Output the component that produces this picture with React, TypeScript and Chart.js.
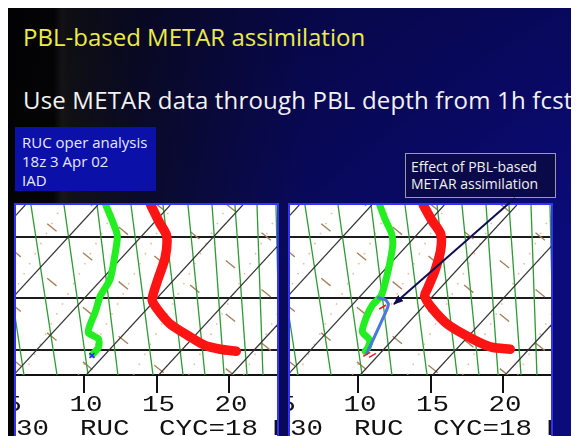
import React, { useEffect, useRef } from 'react';
import { Chart, registerables } from 'chart.js';

Chart.register(...registerables);

// ---- axis ranges (temperature °C, pressure hPa) ----
const T_MIN = 5.31;
const T_MAX = 23.31;
const P_TOP = 860;
const P_BOTTOM = 1025;

// ---- tick labels ----
const X_TICKS = [10, 15, 20];
const X_TICKS_CLIPPED = [5];
const FOOTER_WORDS = ['30', 'RUC', 'CYC=18', 'F'];

// ---- background diagram lines ----
const ISOBARS = [891, 950, 1001];
const ISOTHERM_BASE_T = [-4.85, 0.15, 5.15, 10.15, 15.15, 20.15];
const ISOTHERM_TOP_T = [5.95, 10.95, 15.95, 20.95, 25.95, 30.95];
const ADIABAT_BASE_T = [5.86, 8.14, 10.28, 12.34, 14.76, 16.83, 18.34, 19.66, 21.24, 22.34, 23.52];
const ADIABAT_TOP_T = [4.07, 6.34, 8.62, 10.9, 13.24, 15.45, 17.17, 18.83, 20.41, 21.93, 23.24];
const MOIST_START_P = [690, 745, 797, 850, 903, 956, 1009]; // at 5 °C
const MOIST_END_P = [907, 962, 1014, 1067, 1120, 1173, 1226]; // at 24 °C
const MIXING_BASE_T = [2.0, 5.8, 9.6, 13.4, 17.2, 21.0];
const MIXING_TOP_T = [8.5, 12.3, 16.1, 19.9, 23.7, 27.5];

// ---- left panel: RUC oper analysis ----
const LEFT_TEMP_T = [14.6, 15.2, 15.7, 15.6, 15.1, 14.7, 15.0, 15.9, 17.2, 18.3, 19.4, 20.5];
const LEFT_TEMP_P = [860, 877, 890, 911, 932, 952, 960, 975, 987, 996, 1000, 1002];
const LEFT_DEW_T = [11.5, 12.0, 12.3, 12.1, 11.8, 11.1, 10.8, 10.4, 10.3, 11.0, 11.0, 10.6];
const LEFT_DEW_P = [860, 877, 890, 911, 932, 949, 963, 977, 984, 990, 998, 1005];
const LEFT_SFC_T = [10.55];
const LEFT_SFC_P = [1006];

// ---- right panel: PBL-based METAR assimilation ----
const RIGHT_TEMP_T = [14.5, 15.1, 15.7, 15.7, 15.3, 14.8, 14.6, 15.1, 16.2, 17.9, 19.2, 20.5];
const RIGHT_TEMP_P = [860, 875, 888, 904, 924, 941, 948, 960, 976, 990, 998, 1000];
const RIGHT_DEW_T = [11.5, 11.9, 12.3, 12.4, 12.2, 11.9, 11.6, 11.0, 10.6, 10.3, 10.8, 10.7, 10.5];
const RIGHT_DEW_P = [860, 875, 887, 898, 916, 934, 948, 957, 968, 983, 991, 998, 1002];
const RIGHT_PBL_T = [11.4, 11.9, 12.1, 12.0, 11.3, 10.6];
const RIGHT_PBL_P = [950, 952, 956, 961, 983, 1004];
const RIGHT_OBS_T = [11.7, 10.6, 11.0];
const RIGHT_OBS_P = [959, 1005, 1006];

type Pt = { x: number; y: number };
const pts = (ts: number[], ps: number[]): Pt[] => ts.map((t, i) => ({ x: t, y: ps[i] }));

function lineDs(data: Pt[], color: string, width: number, extra: any = {}) {
  return {
    data,
    showLine: true,
    borderColor: color,
    backgroundColor: color,
    borderWidth: width,
    pointRadius: 0,
    pointHoverRadius: 0,
    fill: false,
    tension: 0,
    order: 10,
    clip: 0,
    ...extra,
  };
}

function backgroundDatasets() {
  const ds: any[] = [];
  MIXING_BASE_T.forEach((t, i) =>
    ds.push(
      lineDs([{ x: t, y: P_BOTTOM }, { x: MIXING_TOP_T[i], y: P_TOP }], 'rgba(232,160,110,0.75)', 1.6, {
        borderDash: [1.5, 10],
        order: 14,
      })
    )
  );
  MOIST_START_P.forEach((p, i) =>
    ds.push(
      lineDs([{ x: 5, y: p }, { x: 24, y: MOIST_END_P[i] }], '#a8805c', 1.4, {
        borderDash: [12, 34],
        order: 13,
      })
    )
  );
  ADIABAT_BASE_T.forEach((t, i) =>
    ds.push(lineDs([{ x: t, y: P_BOTTOM }, { x: ADIABAT_TOP_T[i], y: P_TOP }], '#2f9a33', 1.3, { order: 12 }))
  );
  ISOTHERM_BASE_T.forEach((t, i) =>
    ds.push(lineDs([{ x: t, y: P_BOTTOM }, { x: ISOTHERM_TOP_T[i], y: P_TOP }], '#333333', 1.2, { order: 11 }))
  );
  return ds;
}

const MONO = '"Liberation Mono", "DejaVu Sans Mono", monospace';

function drawWide(ctx: CanvasRenderingContext2D, text: string, x: number, y: number, align: CanvasTextAlign) {
  ctx.save();
  ctx.translate(x, y);
  ctx.scale(1.25, 1);
  ctx.textAlign = align;
  ctx.fillText(text, 0, 0);
  ctx.restore();
}

const labelPlugin = {
  id: 'skewtLabels',
  afterDraw(chart: any) {
    const ctx: CanvasRenderingContext2D = chart.ctx;
    const xs = chart.scales.x;
    const area = chart.chartArea;
    ctx.save();
    ctx.font = `22px ${MONO}`;
    ctx.fillStyle = '#111';
    ctx.textBaseline = 'middle';
    [...X_TICKS_CLIPPED, ...X_TICKS].forEach((v) => {
      drawWide(ctx, String(v), xs.getPixelForValue(v) + 2, xs.top + 30, 'center');
    });
    const offsets = [0, 64, 143, 256];
    FOOTER_WORDS.forEach((w, i) => {
      drawWide(ctx, w, area.left + offsets[i], xs.top + 54, 'left');
    });
    ctx.restore();
  },
};

function makeConfig(profile: any[]) {
  return {
    type: 'scatter',
    data: { datasets: [...profile, ...backgroundDatasets()] },
    options: {
      animation: false,
      responsive: false,
      maintainAspectRatio: false,
      events: [],
      layout: { padding: 0, autoPadding: false },
      plugins: { legend: { display: false }, tooltip: { enabled: false } },
      scales: {
        x: {
          type: 'linear',
          position: 'bottom',
          min: T_MIN,
          max: T_MAX,
          afterBuildTicks: (s: any) => {
            s.ticks = X_TICKS.map((v) => ({ value: v }));
          },
          afterFit: (s: any) => {
            s.height = 63;
          },
          grid: { drawOnChartArea: false, drawTicks: true, tickLength: 18, color: '#111', lineWidth: 2 },
          border: { display: true, color: '#111', width: 2 },
          ticks: { display: false },
        },
        y: {
          type: 'linear',
          min: P_TOP,
          max: P_BOTTOM,
          reverse: true,
          afterBuildTicks: (s: any) => {
            s.ticks = ISOBARS.map((v) => ({ value: v }));
          },
          afterFit: (s: any) => {
            s.width = 0;
          },
          grid: { drawTicks: false, color: '#1c1c1c', lineWidth: 2 },
          border: { display: false },
          ticks: { display: false },
        },
      },
    },
    plugins: [labelPlugin],
  };
}

function thick(data: Pt[], color: string, width: number, extra: any = {}) {
  return lineDs(data, color, width, {
    order: 0,
    tension: 0.25,
    borderCapStyle: 'round',
    borderJoinStyle: 'round',
    clip: 0,
    ...extra,
  });
}

const leftProfile = () => [
  {
    data: pts(LEFT_SFC_T, LEFT_SFC_P),
    showLine: false,
    pointStyle: 'crossRot',
    pointRadius: 3.5,
    borderColor: '#2030e0',
    borderWidth: 1.5,
    order: 0,
  },
  thick(pts(LEFT_DEW_T, LEFT_DEW_P), '#22ee22', 7),
  thick(pts(LEFT_TEMP_T, LEFT_TEMP_P), '#ff1414', 9.5),
];

const rightProfile = () => [
  {
    data: pts(RIGHT_OBS_T, RIGHT_OBS_P),
    showLine: false,
    pointStyle: 'line',
    rotation: -30,
    pointRadius: 4,
    borderColor: '#e02020',
    borderWidth: 1.5,
    order: 0,
  },
  thick(pts(RIGHT_PBL_T, RIGHT_PBL_P), '#4a78e0', 3, { tension: 0.1 }),
  thick(pts(RIGHT_DEW_T, RIGHT_DEW_P), '#22ee22', 7),
  thick(pts(RIGHT_TEMP_T, RIGHT_TEMP_P), '#ff1414', 9.5),
];

function Panel({ left, profile }: { left: number; profile: () => any[] }) {
  const ref = useRef<HTMLCanvasElement | null>(null);
  useEffect(() => {
    const chart = new Chart(ref.current as HTMLCanvasElement, makeConfig(profile()) as any);
    return () => chart.destroy();
  }, []);
  return (
    <div
      style={{
        position: 'absolute',
        left,
        top: 195,
        width: 261,
        height: 240,
        border: '2px solid #3232ff',
        background: '#ffffff',
      }}
    >
      <canvas ref={ref} width={261} height={233} style={{ display: 'block', width: 261, height: 233 }} />
    </div>
  );
}

const SANS = '"Open Sans", "Noto Sans", "DejaVu Sans", sans-serif';

export default function App() {
  return (
    <div
      style={{
        position: 'relative',
        width: 571,
        height: 428,
        overflow: 'hidden',
        fontFamily: SANS,
        background:
          'linear-gradient(180deg, rgba(0,0,0,0.25) 0%, rgba(0,0,0,0) 55%), linear-gradient(90deg, #030305 0px, #050507 46px, #18181c 54px, #121218 62px, #0b0b2c 130px, #090960 300px, #0b0b7c 571px)',
      }}
    >
      <div
        style={{
          position: 'absolute',
          left: 15,
          top: 17,
          fontSize: 24,
          lineHeight: '24px',
          color: '#ecec48',
          whiteSpace: 'nowrap',
        }}
      >
        PBL-based METAR assimilation
      </div>
      <div
        style={{
          position: 'absolute',
          left: 15,
          top: 80,
          fontSize: 24,
          lineHeight: '24px',
          letterSpacing: '0.18px',
          color: '#f2f2f2',
          whiteSpace: 'nowrap',
        }}
      >
        Use METAR data through PBL depth from 1h fcst
      </div>
      <div
        style={{
          position: 'absolute',
          left: 7,
          top: 119,
          width: 141,
          height: 64,
          paddingLeft: 7,
          background: '#0a10a8',
          color: '#e8e8ff',
          fontSize: 15,
          lineHeight: '19px',
          paddingTop: 6,
          boxSizing: 'border-box',
          whiteSpace: 'nowrap',
        }}
      >
        <div>RUC oper analysis</div>
        <div>18z 3 Apr 02</div>
        <div>IAD</div>
      </div>
      <Panel left={6} profile={leftProfile} />
      <Panel left={280} profile={rightProfile} />
      <div
        style={{
          position: 'absolute',
          left: 397,
          top: 145,
          width: 151,
          height: 45,
          boxSizing: 'border-box',
          border: '1px solid #9a9aa8',
          background: '#0a0a4a',
          color: '#f0f0f0',
          fontSize: 14,
          lineHeight: '17px',
          paddingLeft: 5,
          paddingTop: 4,
          whiteSpace: 'nowrap',
        }}
      >
        <div>Effect of PBL-based</div>
        <div>METAR assimilation</div>
      </div>
      <svg
        width={571}
        height={428}
        style={{ position: 'absolute', left: 0, top: 0, pointerEvents: 'none' }}
      >
        <defs>
          <marker id="ah" markerWidth="10" markerHeight="8" refX="9" refY="4" orient="auto" markerUnits="userSpaceOnUse">
            <path d="M0,0 L10,4 L0,8 Z" fill="#0d0d50" />
          </marker>
        </defs>
        <line x1={507} y1={190} x2={386} y2={296} stroke="#0d0d50" strokeWidth={2} markerEnd="url(#ah)" />
      </svg>
    </div>
  );
}
